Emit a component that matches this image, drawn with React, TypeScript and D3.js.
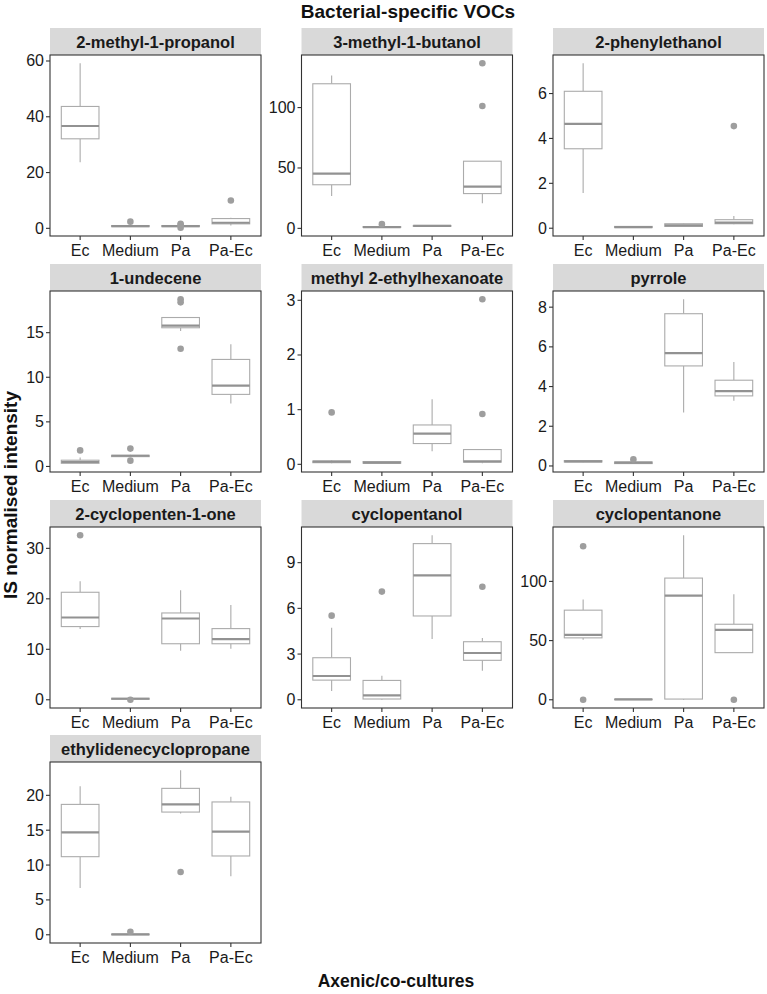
import React from "react";
import * as d3 from "d3";

const title = "Bacterial-specific VOCs";
const xTitle = "Axenic/co-cultures";
const yTitle = "IS normalised intensity";
const categories = ["Ec", "Medium", "Pa", "Pa-Ec"];
const compounds = [
  "2-methyl-1-propanol",
  "3-methyl-1-butanol",
  "2-phenylethanol",
  "1-undecene",
  "methyl 2-ethylhexanoate",
  "pyrrole",
  "2-cyclopenten-1-one",
  "cyclopentanol",
  "cyclopentanone",
  "ethylidenecyclopropane",
];

// box stats per category: [lower whisker, q1, median, q3, upper whisker]
const stats2methyl1propanol = [[23.7, 32.1, 36.7, 43.7, 59.2], [0.5, 0.6, 0.8, 1.0, 1.1], [0.5, 0.6, 0.8, 1.0, 1.1], [1.0, 1.6, 2.0, 3.5, 3.8]];
const stats3methyl1butanol = [[26.9, 36.1, 45.4, 119.7, 126.5], [0.5, 0.8, 1.0, 1.5, 2.0], [1.5, 1.7, 2.0, 2.4, 2.6], [20.8, 28.8, 34.5, 55.6, 55.6]];
const stats2phenylethanol = [[1.57, 3.54, 4.65, 6.1, 7.35], [0.02, 0.03, 0.05, 0.08, 0.09], [0.05, 0.08, 0.13, 0.2, 0.22], [0.18, 0.2, 0.25, 0.38, 0.55]];
const stats1undecene = [[0.3, 0.35, 0.5, 0.7, 1.0], [1.1, 1.1, 1.2, 1.25, 1.3], [15.2, 15.55, 15.8, 16.7, 16.7], [7.06, 8.08, 9.06, 12.0, 13.7]];
const statsMethylEthylhexanoate = [[0.02, 0.03, 0.05, 0.06, 0.07], [0.01, 0.02, 0.03, 0.05, 0.06], [0.24, 0.38, 0.56, 0.72, 1.19], [0.02, 0.04, 0.055, 0.27, 0.27]];
const statsPyrrole = [[0.19, 0.2, 0.23, 0.27, 0.28], [0.11, 0.12, 0.17, 0.2, 0.22], [2.69, 5.04, 5.68, 7.67, 8.4], [3.28, 3.53, 3.77, 4.32, 5.24]];
const stats2cyclopentenone = [[14.0, 14.5, 16.3, 21.3, 23.5], [0.1, 0.1, 0.2, 0.3, 0.3], [9.7, 11.1, 16.1, 17.2, 21.7], [10.1, 11.1, 12.0, 14.1, 18.8]];
const statsCyclopentanol = [[0.57, 1.29, 1.56, 2.76, 4.73], [0.0, 0.05, 0.29, 1.27, 1.58], [3.99, 5.5, 8.17, 10.25, 10.8], [1.9, 2.59, 3.07, 3.81, 4.05]];
const statsCyclopentanone = [[50.8, 52.3, 54.8, 75.7, 84.7], [0.0, 0.1, 0.3, 0.5, 0.6], [0.0, 0.6, 87.9, 102.8, 139.0], [39.8, 39.8, 59.0, 63.8, 89.2]];
const statsEthylidenecyclopropane = [[6.7, 11.2, 14.7, 18.7, 21.3], [0.0, 0.0, 0.05, 0.1, 0.1], [17.4, 17.6, 18.7, 21.0, 23.6], [8.4, 11.3, 14.8, 19.05, 19.8]];

// outliers per category
const out2methyl1propanol = [[], [2.4], [1.6, 1.2, 0.2], [10.0]];
const out3methyl1butanol = [[], [3.5], [], [136.7, 101.3]];
const out2phenylethanol = [[], [], [], [4.55]];
const out1undecene = [[1.8], [2.0, 0.65], [18.75, 18.4, 13.2], []];
const outMethylEthylhexanoate = [[0.95], [], [], [3.02, 0.92]];
const outPyrrole = [[], [0.33], [], []];
const out2cyclopentenone = [[32.6], [0.0], [], []];
const outCyclopentanol = [[5.52], [7.1], [], [7.42]];
const outCyclopentanone = [[129.7, 0.0], [], [], [0.0]];
const outEthylidenecyclopropane = [[], [0.43], [9.0], []];

const yTicks = [
  [0, 20, 40, 60],
  [0, 50, 100],
  [0, 2, 4, 6],
  [0, 5, 10, 15],
  [0, 1, 2, 3],
  [0, 2, 4, 6, 8],
  [0, 10, 20, 30],
  [0, 3, 6, 9],
  [0, 50, 100],
  [0, 5, 10, 15, 20],
];

const allStats = [stats2methyl1propanol, stats3methyl1butanol, stats2phenylethanol, stats1undecene, statsMethylEthylhexanoate, statsPyrrole, stats2cyclopentenone, statsCyclopentanol, statsCyclopentanone, statsEthylidenecyclopropane];
const allOut = [out2methyl1propanol, out3methyl1butanol, out2phenylethanol, out1undecene, outMethylEthylhexanoate, outPyrrole, out2cyclopentenone, outCyclopentanol, outCyclopentanone, outEthylidenecyclopropane];

const colX = [50, 301.5, 553];
const rowY = [28, 264, 500, 735];
const panelW = 211;
const stripH = 27;
const plotH = 181;

const FONT = "'Liberation Sans', Arial, Helvetica, sans-serif";
const boxStroke = "#ababab";
const medStroke = "#929292";
const outFill = "#9e9e9e";

function Panel({ idx }: { idx: number }) {
  const col = idx % 3;
  const row = Math.floor(idx / 3);
  const x0 = colX[col];
  const sy = rowY[row];
  const py = sy + stripH;
  const stats = allStats[idx];
  const outs = allOut[idx];
  const vals = [...stats.flat(), ...outs.flat()];
  const mn = d3.min(vals) as number;
  const mx = d3.max(vals) as number;
  const pad = (mx - mn) * 0.05;
  const y = d3.scaleLinear().domain([mn - pad, mx + pad]).range([py + plotH, py]);
  const x = d3.scalePoint().domain(categories).range([x0, x0 + panelW]).padding(0.6);
  const step = x.step();
  const bw = step * 0.75;
  return (
    <g>
      <rect x={x0} y={sy} width={panelW} height={stripH} fill="#d9d9d9" />
      <text x={x0 + panelW / 2} y={sy + stripH / 2 + 6} textAnchor="middle" fontSize={16.5} fontWeight="bold" fill="#1a1a1a" fontFamily={FONT}>
        {compounds[idx]}
      </text>
      <rect x={x0} y={py} width={panelW} height={plotH} fill="white" />
      {categories.map((c, i) => {
        const [lo, q1, med, q3, hi] = stats[i];
        const cx = x(c) as number;
        return (
          <g key={c}>
            <line x1={cx} x2={cx} y1={y(hi)} y2={y(q3)} stroke={boxStroke} strokeWidth={1.1} />
            <line x1={cx} x2={cx} y1={y(q1)} y2={y(lo)} stroke={boxStroke} strokeWidth={1.1} />
            <rect x={cx - bw / 2} y={y(q3)} width={bw} height={Math.max(0, y(q1) - y(q3))} fill="white" stroke={boxStroke} strokeWidth={1.1} />
            <line x1={cx - bw / 2} x2={cx + bw / 2} y1={y(med)} y2={y(med)} stroke={medStroke} strokeWidth={2.2} />
            {outs[i].map((v, k) => (
              <circle key={k} cx={cx} cy={y(v)} r={3.3} fill={outFill} />
            ))}
          </g>
        );
      })}
      <rect x={x0} y={py} width={panelW} height={plotH} fill="none" stroke="#333" strokeWidth={1.1} />
      {yTicks[idx].map((t) => (
        <g key={t}>
          <line x1={x0 - 4} x2={x0} y1={y(t)} y2={y(t)} stroke="#333" strokeWidth={1.1} />
          <text x={x0 - 6} y={y(t) + 5.5} textAnchor="end" fontSize={16} fill="#1a1a1a" fontFamily={FONT}>
            {t}
          </text>
        </g>
      ))}
      {categories.map((c) => (
        <g key={c}>
          <line x1={x(c) as number} x2={x(c) as number} y1={py + plotH} y2={py + plotH + 4} stroke="#333" strokeWidth={1.1} />
          <text x={x(c) as number} y={py + plotH + 20} textAnchor="middle" fontSize={16} fill="#1a1a1a" fontFamily={FONT}>
            {c}
          </text>
        </g>
      ))}
    </g>
  );
}

export default function App() {
  return (
    <svg width={767} height={994} style={{ position: "absolute", left: 0, top: 0, background: "white" }}>
      <rect x={0} y={0} width={767} height={994} fill="white" />
      <text x={408} y={18} textAnchor="middle" fontSize={19} fontWeight="bold" fill="#111" fontFamily={FONT}>
        {title}
      </text>
      {compounds.map((_, i) => (
        <Panel key={i} idx={i} />
      ))}
      <text x={396} y={987} textAnchor="middle" fontSize={17.5} fontWeight="bold" fill="#111" fontFamily={FONT}>
        {xTitle}
      </text>
      <text transform="translate(17,495) rotate(-90)" textAnchor="middle" fontSize={19} fontWeight="bold" fill="#111" fontFamily={FONT}>
        {yTitle}
      </text>
    </svg>
  );
}
